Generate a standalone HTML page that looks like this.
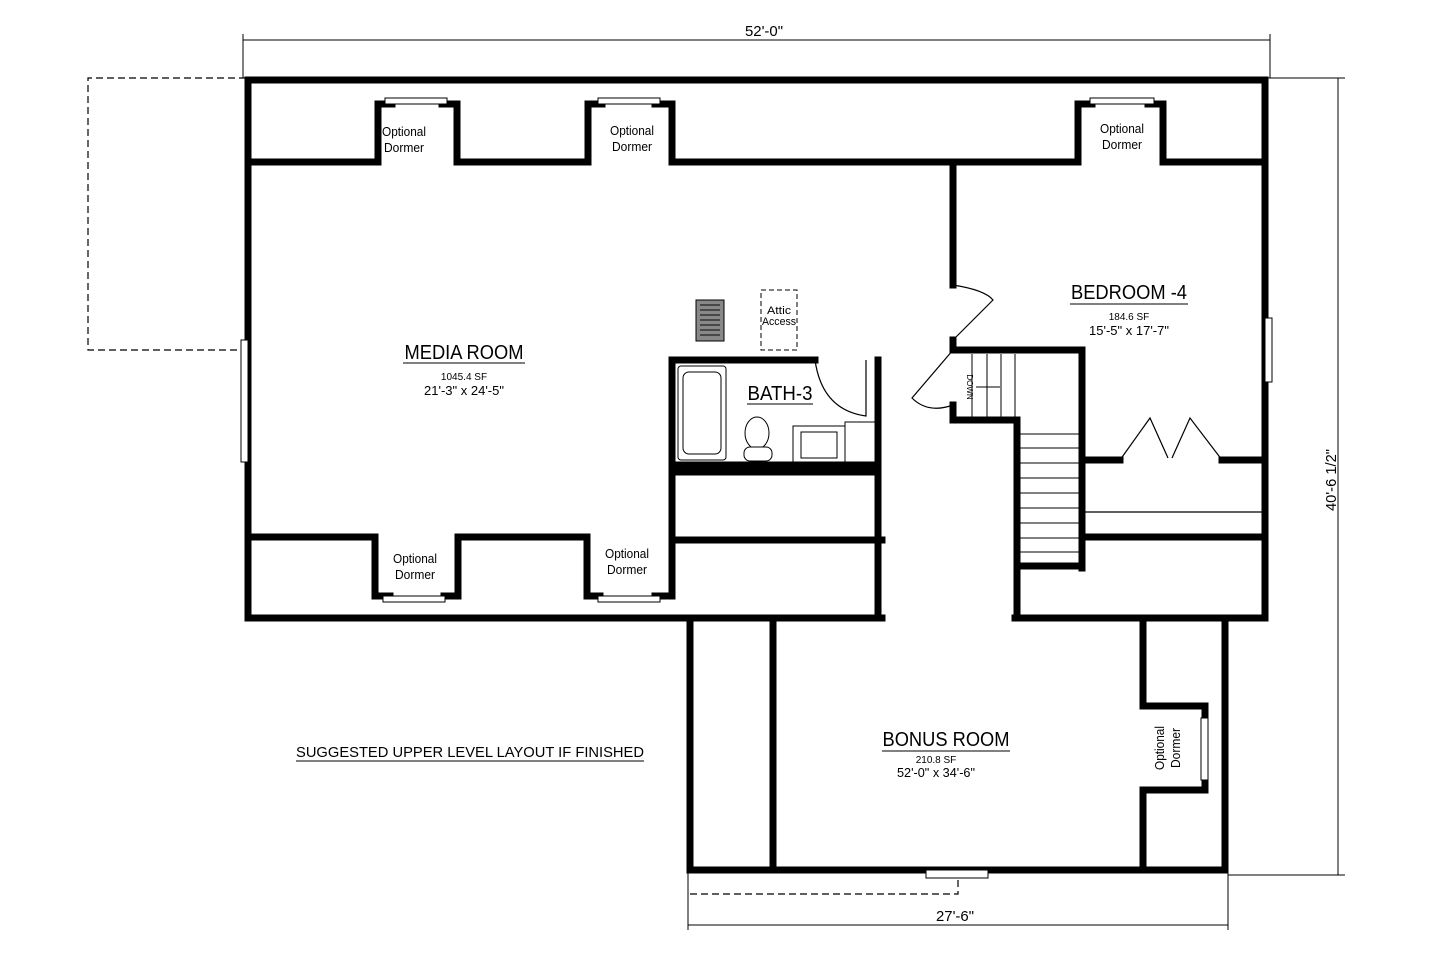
<!DOCTYPE html>
<html><head><meta charset="utf-8"><style>
html,body{margin:0;padding:0;background:#fff;}
svg{display:block;font-family:"Liberation Sans Narrow","Liberation Sans",sans-serif;}
</style></head><body>
<svg width="1440" height="960" viewBox="0 0 1440 960" xmlns="http://www.w3.org/2000/svg">
<rect width="1440" height="960" fill="#fff"/>
<g stroke="#000" stroke-width="1" fill="none">
<line x1="243" y1="40" x2="1270" y2="40"/><line x1="243" y1="34" x2="243" y2="78"/><line x1="1270" y1="34" x2="1270" y2="78"/>
<line x1="1338" y1="78" x2="1338" y2="875"/><line x1="1268" y1="78" x2="1345" y2="78"/><line x1="1228" y1="875" x2="1345" y2="875"/>
<line x1="688" y1="925" x2="1228" y2="925"/><line x1="688" y1="870" x2="688" y2="930"/><line x1="1228" y1="870" x2="1228" y2="930"/>
</g>
<g stroke="#000" stroke-width="1.2" fill="none" stroke-dasharray="7,4">
<polyline points="246,78 88,78 88,350 246,350"/>
<polyline points="690,894 958,894 958,876"/>
</g>
<g stroke="#000" stroke-width="7" fill="none" stroke-linecap="square">
<polyline points="882,618 248,618 248,80 1265,80 1265,618 1015,618"/>
<polyline points="248,162 378,162 378,104 392,104"/>
<polyline points="442,104 457,104 457,162 588,162 588,104 602,104"/>
<polyline points="655,104 672,104 672,162 1078,162 1078,104 1092,104"/>
<polyline points="1148,104 1163,104 1163,162 1265,162"/>
<polyline points="248,537 375,537 375,596 390,596"/>
<polyline points="444,596 458,596 458,537 587,537 587,596 600,596"/>
<polyline points="655,596 672,596 672,540 882,540"/>
<polyline points="672,533 672,360 815,360"/>
<polyline points="878,360 878,618"/>
<line x1="675" y1="465" x2="878" y2="465"/>
<line x1="675" y1="472" x2="878" y2="472"/>
<polyline points="953,165 953,285"/>
<polyline points="953,340 953,350 1082,350 1082,568"/>
<polyline points="953,405 953,420 1017,420 1017,618"/>
<line x1="1017" y1="566" x2="1082" y2="566"/>
<line x1="1085" y1="460" x2="1120" y2="460"/>
<line x1="1222" y1="460" x2="1262" y2="460"/>
<line x1="1085" y1="537" x2="1262" y2="537"/>
<polyline points="690,620 690,870 1225,870 1225,620"/>
<line x1="773" y1="620" x2="773" y2="870"/>
<polyline points="1143,620 1143,706 1205,706 1205,718"/>
<polyline points="1205,780 1205,790 1143,790 1143,870"/>
</g>
<g stroke="#000" stroke-width="1" fill="#fff">
<rect x="385" y="98" width="62" height="6"/><rect x="598" y="98" width="62" height="6"/><rect x="1090" y="98" width="64" height="6"/>
<rect x="383" y="596" width="62" height="6"/><rect x="598" y="596" width="62" height="6"/>
<rect x="241" y="340" width="7" height="122"/><rect x="1265" y="318" width="7" height="64"/>
<rect x="1201" y="718" width="7" height="62"/><rect x="926" y="870" width="62" height="8"/>
</g>
<g stroke="#000" stroke-width="1.2" fill="none">
<path d="M953,285 Q985,290 993,300 L953,340"/>
<path d="M953,350 L912,398 Q928,414 953,405"/>
<path d="M815,360 Q822,410 866,416 L866,360"/>
<path d="M1120,460 L1150,418 L1168,458 M1222,460 L1190,418 L1172,458"/>
<line x1="1085" y1="512" x2="1262" y2="512"/>
</g>
<g stroke="#000" stroke-width="1">
<line x1="972" y1="354" x2="972" y2="418"/><line x1="987" y1="354" x2="987" y2="418"/><line x1="1001" y1="354" x2="1001" y2="418"/><line x1="1015" y1="354" x2="1015" y2="418"/>
<line x1="1020" y1="434" x2="1080" y2="434"/><line x1="1020" y1="448" x2="1080" y2="448"/><line x1="1020" y1="463" x2="1080" y2="463"/><line x1="1020" y1="478" x2="1080" y2="478"/><line x1="1020" y1="493" x2="1080" y2="493"/><line x1="1020" y1="508" x2="1080" y2="508"/><line x1="1020" y1="523" x2="1080" y2="523"/><line x1="1020" y1="538" x2="1080" y2="538"/><line x1="1020" y1="552" x2="1080" y2="552"/>
<line x1="976" y1="387" x2="1000" y2="387"/>
</g>
<text x="967" y="387" font-size="8" transform="rotate(90 967 387)" text-anchor="middle">DOWN</text>
<g stroke="#000" stroke-width="1" fill="#fff">
<rect x="678" y="366" width="48" height="94" rx="3"/><rect x="683" y="372" width="38" height="82" rx="6"/>
<ellipse cx="757" cy="433" rx="12" ry="16"/><rect x="744" y="447" width="28" height="14" rx="6"/>
<rect x="793" y="426" width="52" height="36"/><rect x="801" y="432" width="36" height="26"/>
<rect x="845" y="422" width="30" height="40"/>
<rect x="696" y="300" width="28" height="41" fill="#888"/>
</g>
<g stroke="#333" stroke-width="1.5">
<line x1="700" y1="305" x2="720" y2="305"/><line x1="700" y1="310" x2="720" y2="310"/><line x1="700" y1="315" x2="720" y2="315"/><line x1="700" y1="320" x2="720" y2="320"/><line x1="700" y1="325" x2="720" y2="325"/><line x1="700" y1="330" x2="720" y2="330"/><line x1="700" y1="335" x2="720" y2="335"/>
</g>
<rect x="761" y="290" width="36" height="60" fill="none" stroke="#000" stroke-dasharray="5,3"/>
<g fill="#000" text-anchor="middle">
<text x="764" y="36" font-size="15" textLength="38" lengthAdjust="spacingAndGlyphs">52'-0"</text>
<text x="955" y="921" font-size="15" textLength="38" lengthAdjust="spacingAndGlyphs">27'-6"</text>
<text x="1336" y="480" font-size="15" transform="rotate(-90 1336 480)" textLength="62" lengthAdjust="spacingAndGlyphs">40'-6 1/2"</text>
<g font-size="13"><text x="404" y="136" textLength="44" lengthAdjust="spacingAndGlyphs">Optional</text><text x="404" y="152" textLength="40" lengthAdjust="spacingAndGlyphs">Dormer</text>
<text x="632" y="135" textLength="44" lengthAdjust="spacingAndGlyphs">Optional</text><text x="632" y="151" textLength="40" lengthAdjust="spacingAndGlyphs">Dormer</text>
<text x="1122" y="133" textLength="44" lengthAdjust="spacingAndGlyphs">Optional</text><text x="1122" y="149" textLength="40" lengthAdjust="spacingAndGlyphs">Dormer</text>
<text x="415" y="563" textLength="44" lengthAdjust="spacingAndGlyphs">Optional</text><text x="415" y="579" textLength="40" lengthAdjust="spacingAndGlyphs">Dormer</text>
<text x="627" y="558" textLength="44" lengthAdjust="spacingAndGlyphs">Optional</text><text x="627" y="574" textLength="40" lengthAdjust="spacingAndGlyphs">Dormer</text></g>
<g font-size="13" transform="rotate(-90 1170 748)"><text x="1170" y="742" textLength="44" lengthAdjust="spacingAndGlyphs">Optional</text><text x="1170" y="758" textLength="40" lengthAdjust="spacingAndGlyphs">Dormer</text></g>
<text x="779" y="314" font-size="11" textLength="24" lengthAdjust="spacingAndGlyphs">Attic</text><text x="779" y="325" font-size="11" textLength="34" lengthAdjust="spacingAndGlyphs">Access</text>
<text x="464" y="359" font-size="20" textLength="119" lengthAdjust="spacingAndGlyphs">MEDIA ROOM</text><line x1="403" y1="363" x2="525" y2="363" stroke="#000"/>
<text x="464" y="380" font-size="10">1045.4 SF</text><text x="464" y="395" font-size="13" textLength="80" lengthAdjust="spacingAndGlyphs">21'-3" x 24'-5"</text>
<text x="780" y="400" font-size="20" textLength="65" lengthAdjust="spacingAndGlyphs">BATH-3</text><line x1="747" y1="404" x2="813" y2="404" stroke="#000"/>
<text x="1129" y="299" font-size="20" textLength="116" lengthAdjust="spacingAndGlyphs">BEDROOM -4</text><line x1="1070" y1="304" x2="1188" y2="304" stroke="#000"/>
<text x="1129" y="320" font-size="10">184.6 SF</text><text x="1129" y="335" font-size="13" textLength="80" lengthAdjust="spacingAndGlyphs">15'-5" x 17'-7"</text>
<text x="946" y="746" font-size="20" textLength="127" lengthAdjust="spacingAndGlyphs">BONUS ROOM</text><line x1="882" y1="751" x2="1010" y2="751" stroke="#000"/>
<text x="936" y="763" font-size="10">210.8 SF</text><text x="936" y="777" font-size="13" textLength="78" lengthAdjust="spacingAndGlyphs">52'-0" x 34'-6"</text>
<text x="470" y="757" font-size="15" textLength="348" lengthAdjust="spacingAndGlyphs">SUGGESTED UPPER LEVEL LAYOUT IF FINISHED</text>
<line x1="296" y1="761" x2="644" y2="761" stroke="#000"/>
</g>
</svg>
</body></html>
